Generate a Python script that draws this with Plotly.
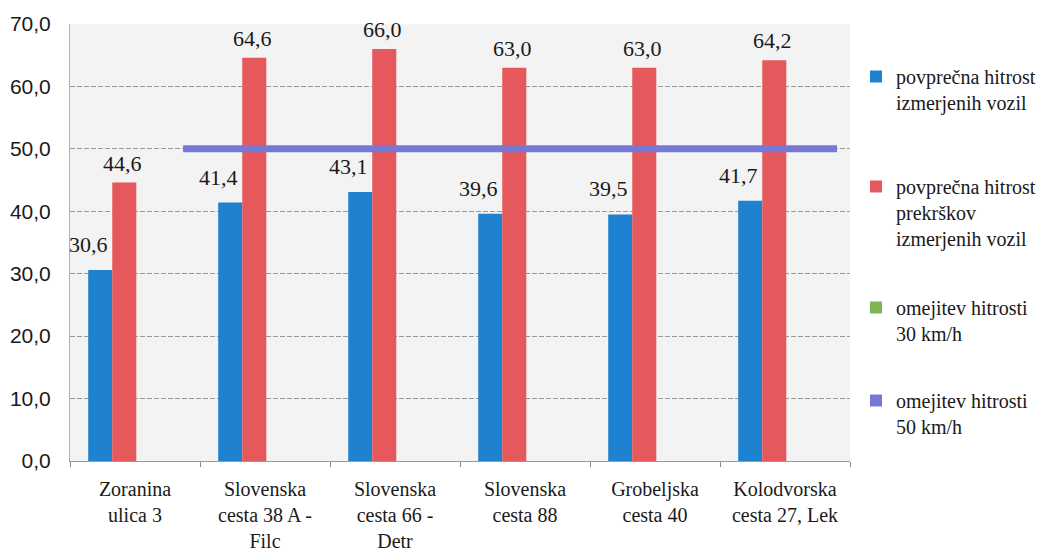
import plotly.graph_objects as go

categories = ["Zoranina<br>ulica 3", "Slovenska<br>cesta 38 A -<br>Filc", "Slovenska<br>cesta 66 -<br>Detr",
              "Slovenska<br>cesta 88", "Grobeljska<br>cesta 40", "Kolodvorska<br>cesta 27, Lek"]
avg_speed = [30.6, 41.4, 43.1, 39.6, 39.5, 41.7]
avg_violation_speed = [44.6, 64.6, 66.0, 63.0, 63.0, 64.2]
limit30 = [None, None, None, None, None, None]
limit50_value = 50.0
limit50_x = [0.37, 5.4]

name_blue = "povprečna hitrost<br>izmerjenih vozil"
name_red = "povprečna hitrost<br>prekrškov<br>izmerjenih vozil"
name_green = "omejitev hitrosti<br>30 km/h"
name_violet = "omejitev hitrosti<br>50 km/h"

C_BLUE = "#1F82D0"
C_RED = "#E5585C"
C_GREEN = "#7DB655"
C_VIOLET = "#7778D6"
SERIF = "Liberation Serif"
SANS = "Liberation Sans"
TXT = "#1a1a1a"

BW = 0.185
OFF_BLUE = -0.36
OFF_RED = -0.175

fig = go.Figure()
fig.add_trace(go.Bar(x=categories, y=avg_speed, name=name_blue, marker=dict(color=C_BLUE, line=dict(width=0)),
                     width=BW, offset=OFF_BLUE, legend="legend"))
fig.add_trace(go.Bar(x=categories, y=avg_violation_speed, name=name_red, marker=dict(color=C_RED, line=dict(width=0)),
                     width=BW, offset=OFF_RED, legend="legend2"))
fig.add_trace(go.Bar(x=categories, y=limit30, name=name_green, marker=dict(color=C_GREEN, line=dict(width=0)),
                     width=BW, offset=OFF_RED + BW, legend="legend3"))
fig.add_trace(go.Bar(x=categories, y=[None] * len(categories), name=name_violet,
                     marker=dict(color=C_VIOLET, line=dict(width=0)),
                     width=BW, offset=OFF_RED + 2 * BW, legend="legend4"))
fig.add_trace(go.Scatter(x=limit50_x, y=[limit50_value] * len(limit50_x), xaxis="x2", mode="lines",
                         line=dict(color=C_VIOLET, width=7), showlegend=False, hoverinfo="skip"))

ann = []
for i, v in enumerate(avg_speed):
    ann.append(dict(x=i + OFF_BLUE + BW / 2, y=v, xref="x2", yref="y", text=f"{v:.1f}".replace(".", ","),
                    showarrow=False, yanchor="bottom", xshift=-12, yshift=11,
                    font=dict(family=SERIF, size=22, color=TXT)))
for i, v in enumerate(avg_violation_speed):
    ann.append(dict(x=i + OFF_RED + BW / 2, y=v, xref="x2", yref="y", text=f"{v:.1f}".replace(".", ","),
                    showarrow=False, yanchor="bottom", xshift=-2, yshift=5,
                    font=dict(family=SERIF, size=22, color=TXT)))

W, H = 1058, 551
L, R, T, B = 70, 208, 24, 90
pw, ph = W - L - R, H - T - B


def px_to_paper_x(px):
    return (px - L) / pw


def px_to_paper_y(py):
    return (H - B - py) / ph


def legend_at(py):
    return dict(x=px_to_paper_x(856), y=px_to_paper_y(py), xanchor="left", yanchor="top",
                bgcolor="rgba(0,0,0,0)", valign="top", itemwidth=30,
                font=dict(family=SERIF, size=20, color=TXT), tracegroupgap=0, itemclick=False)


fig.update_layout(
    width=W, height=H,
    margin=dict(l=L, r=R, t=T, b=B, autoexpand=False),
    paper_bgcolor="white",
    plot_bgcolor="#F3F3F3",
    barmode="overlay",
    separators=", ",
    showlegend=True,
    legend=legend_at(57),
    legend2=legend_at(167),
    legend3=legend_at(288),
    legend4=legend_at(381),
    annotations=ann,
    xaxis=dict(type="category", range=[-0.5, 5.5], tickson="boundaries", ticks="outside", ticklen=5,
               tickcolor="#8a8a8a", showgrid=False, showline=True, linecolor="#9a9a9a", linewidth=1,
               tickfont=dict(family=SERIF, size=20, color=TXT), ticklabelstandoff=10, automargin=False),
    xaxis2=dict(overlaying="x", range=[-0.5, 5.5], visible=False, showgrid=False, zeroline=False),
    yaxis=dict(range=[0, 70], dtick=10, tickformat=".1f", showgrid=True, gridcolor="#9a9a9a",
               griddash="5px,2px", gridwidth=1, zeroline=False, showline=True, linecolor="#b0b0b0",
               ticks="", tickfont=dict(family=SANS, size=21, color=TXT), ticklabelstandoff=14,
               automargin=False),
)

fig.write_html("out.html", config={"displayModeBar": False},
               post_script="document.body.style.margin='0px';document.body.style.padding='0px';")
